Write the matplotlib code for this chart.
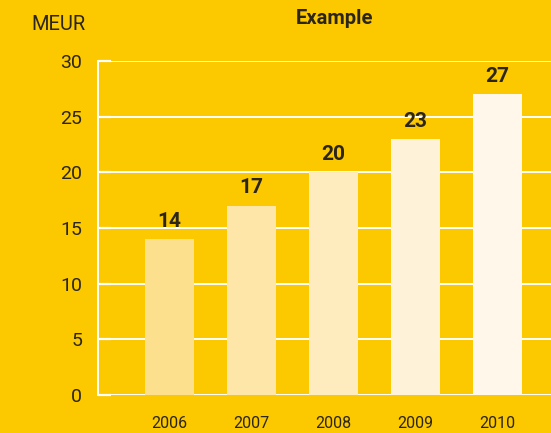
import numpy as np
import matplotlib
matplotlib.use("Agg")
import matplotlib.pyplot as plt

# chart data
years = ["2006", "2007", "2008", "2009", "2010"]
values = [14, 17, 20, 23, 27]
bar_colors = ["#FDE08E", "#FEE6A8", "#FEECBF", "#FEF2D8", "#FFF7EA"]
y_ticks = [0, 5, 10, 15, 20, 25, 30]

BG = "#FCC800"
INK = "#2B2618"


def main():
    plt.rcParams["font.family"] = ["Roboto", "DejaVu Sans"]

    fig = plt.figure(figsize=(5.51, 4.33), dpi=100, facecolor=BG)
    ax = fig.add_axes([98 / 551, 38 / 433, 470.7 / 551, 334 / 433])
    ax.set_facecolor(BG)

    x = np.arange(len(years))
    bars = ax.bar(x, values, width=0.6, color=bar_colors, zorder=3)

    ax.set_xlim(-0.87, 4.87)
    ax.set_ylim(0, 30)
    ax.set_yticks(y_ticks)
    ax.set_xticks(x)
    ax.set_xticklabels(years)

    # white grid lines behind the bars
    ax.yaxis.grid(True, color="white", linewidth=1.4, zorder=1)
    ax.set_axisbelow(True)

    for side in ["top", "right", "bottom"]:
        ax.spines[side].set_visible(False)
    ax.spines["left"].set_color("white")
    ax.spines["left"].set_linewidth(1.4)

    ax.tick_params(axis="y", direction="in", length=9, width=1.6, color="white",
                   labelsize=14, labelcolor=INK, pad=11.5)
    ax.tick_params(axis="x", length=0, labelsize=11.5, labelcolor=INK, pad=15)

    ax.bar_label(bars, labels=[str(v) for v in values], padding=6,
                 fontsize=15, fontweight="bold", color=INK)

    fig.text(334 / 551, 1 - 18 / 433, "Example", ha="center", va="center",
             fontsize=14.5, fontweight="bold", color=INK)
    fig.text(31 / 551, 1 - 25 / 433, "MEUR", ha="left", va="center",
             fontsize=14.5, color=INK)

    fig.savefig("out.png", dpi=100, facecolor=BG)


if __name__ == "__main__":
    main()
